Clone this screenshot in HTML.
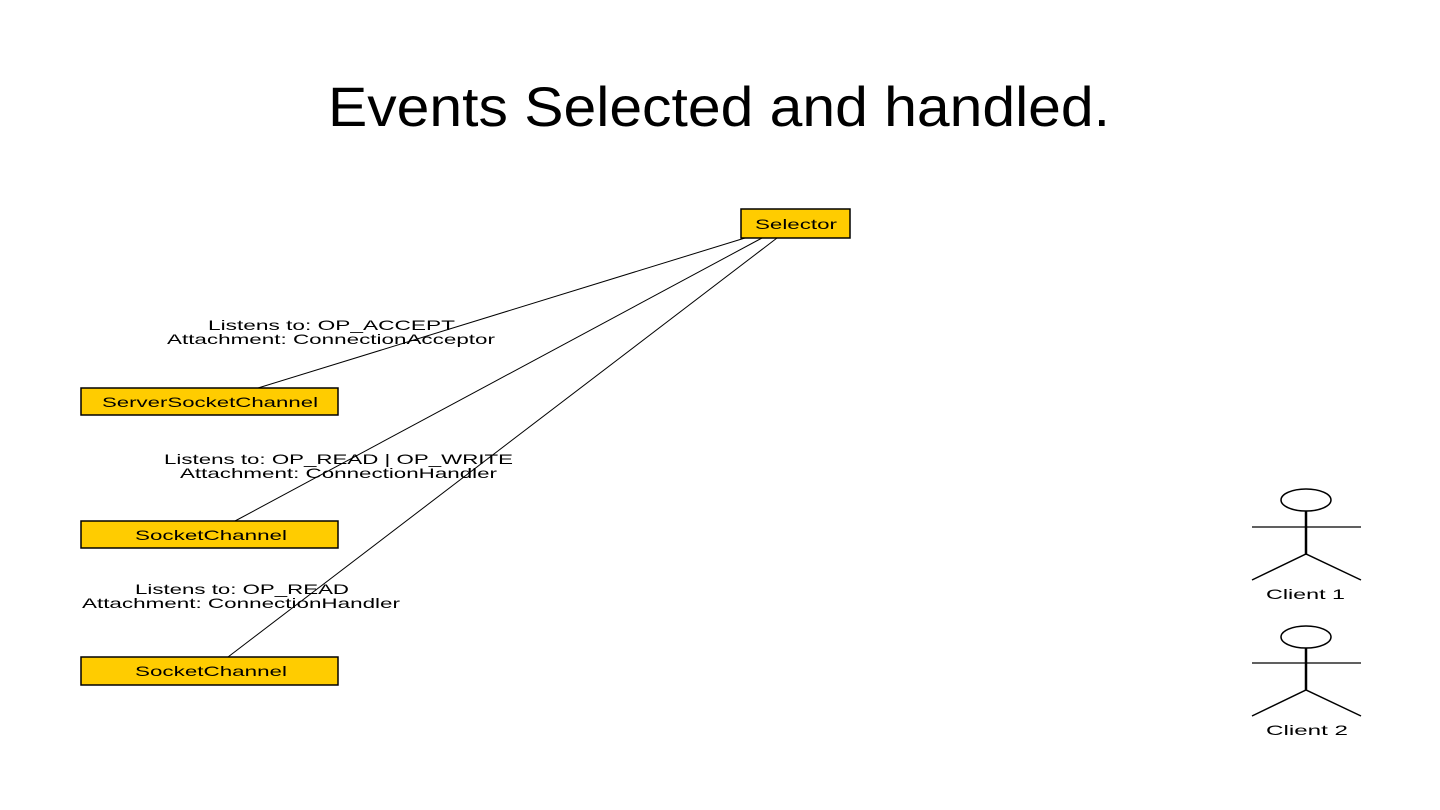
<!DOCTYPE html>
<html><head><meta charset="utf-8"><style>
html,body{margin:0;padding:0;background:#fff;}
svg{display:block;}
</style></head><body>
<svg width="1440" height="810" viewBox="0 0 1440 810" xmlns="http://www.w3.org/2000/svg">
<rect width="1440" height="810" fill="#fff"/>
<text x="328" y="126" textLength="782" lengthAdjust="spacingAndGlyphs" font-family="Liberation Sans, sans-serif" font-size="56" fill="#000">Events Selected and handled.</text>
<g stroke="#000" stroke-width="1" fill="none">
<line x1="745" y1="238" x2="258" y2="388"/>
<line x1="762" y1="238" x2="235" y2="521"/>
<line x1="777" y1="238" x2="228" y2="657"/>
</g>
<g fill="#FFCC00" stroke="#000" stroke-width="1.5">
<rect x="741" y="209" width="109" height="29"/>
<rect x="81" y="388" width="257" height="27"/>
<rect x="81" y="521" width="257" height="27"/>
<rect x="81" y="657" width="257" height="28"/>
</g>
<g font-family="Liberation Sans, sans-serif" font-size="14" fill="#000" lengthAdjust="spacingAndGlyphs">
<text x="755" y="229" textLength="82" lengthAdjust="spacingAndGlyphs">Selector</text>
<text x="102" y="407" textLength="216" lengthAdjust="spacingAndGlyphs">ServerSocketChannel</text>
<text x="135" y="540" textLength="152" lengthAdjust="spacingAndGlyphs">SocketChannel</text>
<text x="135" y="676" textLength="152" lengthAdjust="spacingAndGlyphs">SocketChannel</text>
<text x="208" y="330" textLength="247" lengthAdjust="spacingAndGlyphs">Listens to: OP_ACCEPT</text>
<text x="167" y="344" textLength="328" lengthAdjust="spacingAndGlyphs">Attachment: ConnectionAcceptor</text>
<text x="164" y="464" textLength="349" lengthAdjust="spacingAndGlyphs">Listens to: OP_READ | OP_WRITE</text>
<text x="180" y="478" textLength="317" lengthAdjust="spacingAndGlyphs">Attachment: ConnectionHandler</text>
<text x="135" y="594" textLength="214" lengthAdjust="spacingAndGlyphs">Listens to: OP_READ</text>
<text x="82" y="608" textLength="318" lengthAdjust="spacingAndGlyphs">Attachment: ConnectionHandler</text>
<text x="1266" y="599" textLength="79" lengthAdjust="spacingAndGlyphs">Client 1</text>
<text x="1266" y="735" textLength="82" lengthAdjust="spacingAndGlyphs">Client 2</text>
</g>
<g stroke="#000" fill="none">
<ellipse cx="1306" cy="500" rx="25" ry="11" stroke-width="1.5"/>
<line x1="1306" y1="511" x2="1306" y2="555" stroke-width="2.5"/>
<line x1="1252" y1="527" x2="1361" y2="527" stroke-width="1.2"/>
<polyline points="1252,580 1306,554 1361,580" stroke-width="1.5"/>
<ellipse cx="1306" cy="637" rx="25" ry="11" stroke-width="1.5"/>
<line x1="1306" y1="648" x2="1306" y2="690" stroke-width="2.5"/>
<line x1="1252" y1="663" x2="1361" y2="663" stroke-width="1.2"/>
<polyline points="1252,716 1306,690 1361,716" stroke-width="1.5"/>
</g>
</svg>
</body></html>
